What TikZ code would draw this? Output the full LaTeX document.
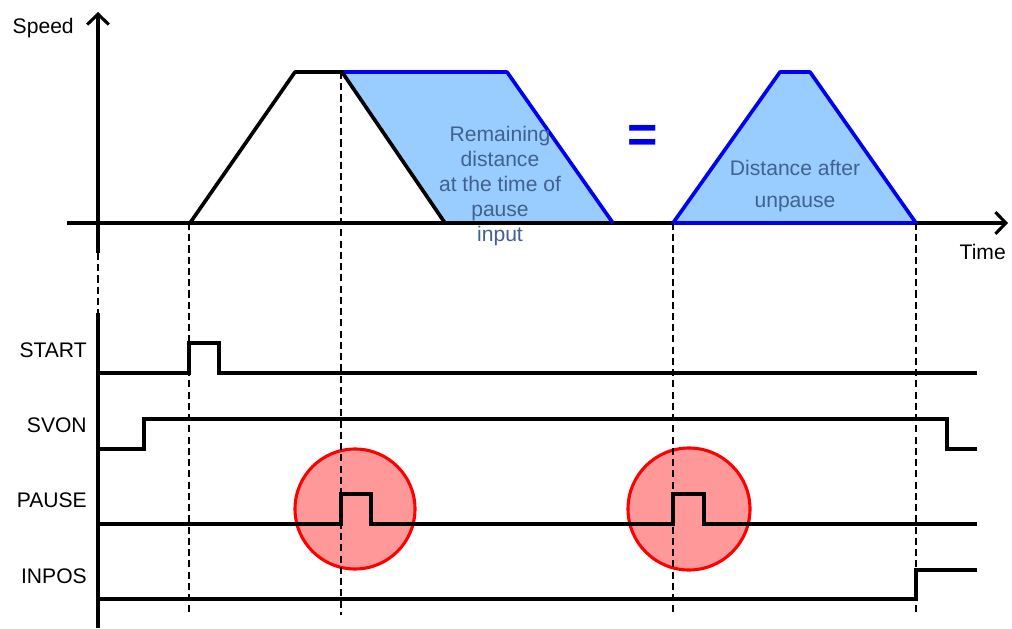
\documentclass[tikz,border=0pt]{standalone}
\usepackage{fontspec}
\setmainfont{Liberation Sans}
\usepackage{tikz}
\usetikzlibrary{arrows.meta}
\definecolor{areablue}{HTML}{99CCFF}
\definecolor{edgeblue}{HTML}{0000EE}
\definecolor{noteblue}{HTML}{41618F}
\definecolor{markred}{HTML}{FF9999}

\begin{document}
\begin{tikzpicture}[x=0.25cm,y=0.25cm,font=\fontsize{15}{18}\selectfont,
  axis/.style={line width=2.6pt,-{Straight Barb[length=2.6mm,width=5.4mm,line width=2.2pt]}},
  sig/.style={line width=2.2pt},
  guide/.style={line width=1pt,dash pattern=on 5pt off 3pt},
  pausering/.style={line width=2.2pt,red,fill=markred}]
  \useasboundingbox (0,0) rectangle (101.2,62.8);
  % blue areas
  \fill[areablue] (34.2,55.6) -- (50.7,55.6) -- (61.3,40.5) -- (44.5,40.5) -- cycle;
  \fill[areablue] (67.3,40.5) -- (78.0,55.6) -- (81.0,55.6) -- (91.6,40.5) -- cycle;
  % pause marks
  \draw[pausering] (35.5,11.9) circle (6.0);
  \draw[pausering] (68.9,11.9) circle (6.1);
  % axes
  \draw[axis] (6.7,40.5) -- (100.8,40.5);
  \draw[axis] (9.8,37.5) -- (9.8,61.6);
  \draw[line width=2.6pt] (9.8,31.5) -- (9.8,0);
  \draw[guide] (9.8,37.5) -- (9.8,31.5);
  \node[anchor=east,inner sep=0pt] (speed) at (7.4,60.0) {Speed};
  \node[anchor=east,inner sep=0pt] (time) at (100.6,37.6) {Time};
  % outlines
  \draw[line width=2.6pt,edgeblue,line join=round] (34.2,55.6) -- (50.7,55.6) -- (61.3,40.5);
  \draw[line width=2.6pt,edgeblue,line join=round] (67.3,40.5) -- (78.0,55.6) -- (81.0,55.6) -- (91.6,40.5) -- cycle;
  \draw[line width=2.6pt,line join=round] (19.0,40.5) -- (29.5,55.6) -- (34.2,55.6) -- (44.5,40.5);
  \node[text=edgeblue,font=\fontsize{37}{37}\selectfont\bfseries] (equal) at (64.3,48.9) {=};
  \node[text=noteblue,align=center,font=\fontsize{15}{17.8}\selectfont] (remain) at (50.0,44.2)
    {Remaining\\distance\\at the time of\\pause\\input};
  \node[text=noteblue,align=center,font=\fontsize{15}{22.8}\selectfont] (after) at (79.5,44.2)
    {Distance after\\unpause};
  % guides
  \draw[guide] (18.9,40.5) -- (18.9,1.6);
  \draw[guide] (34.1,55.6) -- (34.1,1.3);
  \draw[guide] (67.3,40.5) -- (67.3,1.6);
  \draw[guide] (91.6,40.5) -- (91.6,1.6);
  % signals
  \draw[sig] (9.8,25.5) -- (18.9,25.5) -- (18.9,28.5) -- (21.9,28.5) -- (21.9,25.5) -- (97.7,25.5);
  \draw[sig] (9.8,17.9) -- (14.4,17.9) -- (14.4,20.9) -- (94.7,20.9) -- (94.7,17.9) -- (97.7,17.9);
  \draw[sig] (9.8,10.4) -- (34.1,10.4) -- (34.1,13.4) -- (37.1,13.4) -- (37.1,10.4)
    -- (67.3,10.4) -- (67.3,13.4) -- (70.4,13.4) -- (70.4,10.4) -- (97.7,10.4);
  \draw[sig] (9.8,2.9) -- (91.6,2.9) -- (91.6,5.8) -- (97.7,5.8);
  \node[anchor=east,inner sep=0pt] (start) at (8.7,27.8) {START};
  \node[anchor=east,inner sep=0pt] (svon) at (8.7,20.3) {SVON};
  \node[anchor=east,inner sep=0pt] (pause) at (8.7,12.8) {PAUSE};
  \node[anchor=east,inner sep=0pt] (inpos) at (8.7,5.2) {INPOS};
\end{tikzpicture}
\end{document}
